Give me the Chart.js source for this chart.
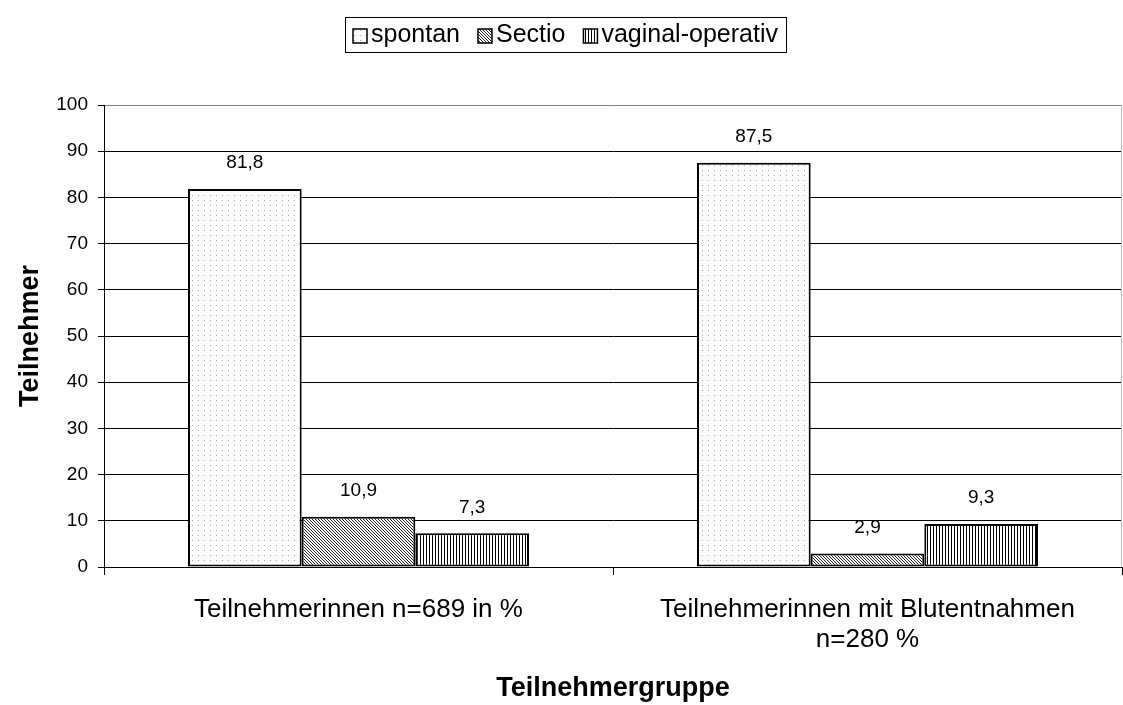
<!DOCTYPE html>
<html>
<head>
<meta charset="utf-8">
<script src="https://cdn.jsdelivr.net/npm/chart.js@4"></script>
<style>
  body { margin: 0; background: #fff; }
  #wrap { width: 1123px; height: 705px; }
</style>
</head>
<body>
<div id="wrap"><canvas id="chart" width="1123" height="705"></canvas></div>
<script>
// chart data
const categories = [
  'Teilnehmerinnen n=689 in %',
  ['Teilnehmerinnen mit Blutentnahmen', 'n=280 %']
];
const seriesNames = ['spontan', 'Sectio', 'vaginal-operativ'];
const spontan = [81.8, 87.5];
const sectio = [10.9, 2.9];
const vaginalOperativ = [7.3, 9.3];
const yTicks = [0, 10, 20, 30, 40, 50, 60, 70, 80, 90, 100];

const FONT = '"Liberation Sans", Arial, sans-serif';

// build small fill patterns like the old Excel hatches
function makePattern(w, h, draw) {
  const c = document.createElement('canvas');
  c.width = w;
  c.height = h;
  const g = c.getContext('2d');
  g.fillStyle = '#fff';
  g.fillRect(0, 0, w, h);
  draw(g);
  return document.getElementById('chart').getContext('2d').createPattern(c, 'repeat');
}

const dotPattern = makePattern(6, 5, function(g) {
  g.fillStyle = '#a8a8a8';
  g.fillRect(0, 0, 1, 1);
});
const diagPattern = makePattern(3, 3, function(g) {
  g.fillStyle = '#222';
  for (let i = 0; i < 3; i++) g.fillRect(i, i, 1, 1);
});
const stripePattern = makePattern(3, 1, function(g) {
  g.fillStyle = '#000';
  g.fillRect(0, 0, 1, 1);
});
const patterns = [dotPattern, diagPattern, stripePattern];

// value labels above bars, comma decimals
const valueLabels = {
  id: 'valueLabels',
  afterDatasetsDraw(chart) {
    const ctx = chart.ctx;
    ctx.save();
    ctx.font = '19px ' + FONT;
    ctx.fillStyle = '#000';
    ctx.textAlign = 'center';
    ctx.textBaseline = 'middle';
    chart.data.datasets.forEach(function(ds, i) {
      chart.getDatasetMeta(i).data.forEach(function(bar, j) {
        const txt = ds.data[j].toFixed(1).replace('.', ',');
        ctx.fillText(txt, bar.x, bar.y - 26);
      });
    });
    ctx.restore();
  }
};

// boxed legend at the top, plus the grey frame on the right
const boxLegend = {
  id: 'boxLegend',
  afterDraw(chart) {
    const ctx = chart.ctx;
    const area = chart.chartArea;
    ctx.save();
    ctx.strokeStyle = '#c0c0c0';
    ctx.lineWidth = 1;
    ctx.beginPath();
    ctx.moveTo(area.right - 0.5, area.top);
    ctx.lineTo(area.right - 0.5, area.bottom);
    ctx.stroke();

    ctx.font = '25px ' + FONT;
    const sq = 14, gapText = 4, gapItem = 18, pad = 8;
    const widths = seriesNames.map(n => ctx.measureText(n).width);
    let total = pad * 2;
    widths.forEach(function(w, i) {
      total += sq + gapText + w + (i < widths.length - 1 ? gapItem : 0);
    });
    const cx = 565, top = 17, h = 35;
    let x = Math.round(cx - total / 2);
    ctx.strokeStyle = '#000';
    ctx.strokeRect(x + 0.5, top + 0.5, Math.round(total), h);
    const midY = top + h / 2 + 1;
    x += pad;
    ctx.textBaseline = 'middle';
    ctx.textAlign = 'left';
    seriesNames.forEach(function(n, i) {
      ctx.fillStyle = patterns[i];
      ctx.fillRect(x, Math.round(midY - sq / 2), sq, sq);
      ctx.strokeStyle = '#000';
      ctx.lineWidth = 1.5;
      ctx.strokeRect(x, Math.round(midY - sq / 2), sq, sq);
      x += sq + gapText;
      ctx.fillStyle = '#000';
      ctx.fillText(n, x, midY);
      x += widths[i] + gapItem;
    });
    ctx.restore();
  }
};

const datasets = [spontan, sectio, vaginalOperativ].map(function(vals, i) {
  return {
    label: seriesNames[i],
    data: vals,
    backgroundColor: patterns[i],
    borderColor: '#000',
    borderWidth: 2,
    borderSkipped: false
  };
});

new Chart(document.getElementById('chart'), {
  type: 'bar',
  data: { labels: categories, datasets: datasets },
  options: {
    responsive: false,
    animation: false,
    devicePixelRatio: 1,
    categoryPercentage: 0.67,
    barPercentage: 1.0,
    layout: { padding: { top: 105, right: 1, bottom: 0, left: 0 } },
    plugins: {
      legend: { display: false },
      tooltip: { enabled: false }
    },
    scales: {
      x: {
        afterFit: function(scale) { scale.height = 138; },
        grid: {
          offset: true,
          drawOnChartArea: false,
          drawTicks: true,
          tickLength: 8,
          color: '#000'
        },
        border: { color: '#000', width: 1 },
        ticks: {
          color: '#000',
          padding: 20,
          maxRotation: 0,
          font: { family: FONT, size: 26, lineHeight: 1.154 }
        },
        title: {
          display: true,
          text: 'Teilnehmergruppe',
          color: '#000',
          padding: { top: 0, bottom: 0 },
          font: { family: FONT, size: 27, weight: 'bold' }
        }
      },
      y: {
        min: 0,
        max: 100,
        afterFit: function(scale) { scale.width = 104; },
        afterBuildTicks: function(scale) {
          scale.ticks = yTicks.map(v => ({ value: v }));
        },
        grid: {
          color: function(c) { return c.tick && c.tick.value === 100 ? '#808080' : '#000'; },
          lineWidth: 1,
          drawTicks: true,
          tickLength: 6,
          tickColor: '#000'
        },
        border: { color: '#000', width: 1 },
        ticks: {
          color: '#000',
          padding: 10,
          font: { family: FONT, size: 19 }
        },
        title: {
          display: true,
          text: 'Teilnehmer',
          color: '#000',
          padding: { top: 14, bottom: 14 },
          font: { family: FONT, size: 27, weight: 'bold' }
        }
      }
    }
  },
  plugins: [valueLabels, boxLegend]
});
</script>
</body>
</html>
